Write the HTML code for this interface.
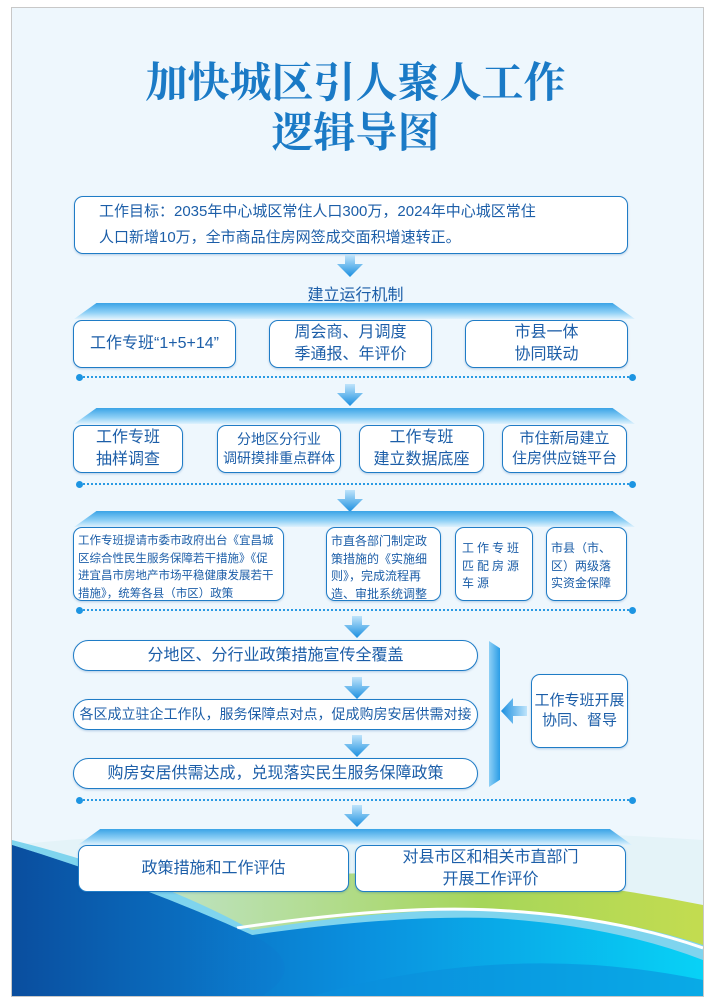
<!DOCTYPE html>
<html><head><meta charset="utf-8"><style>
*{margin:0;padding:0;box-sizing:border-box}
body{width:711px;height:1003px;background:#fff;position:relative;overflow:hidden;font-family:"Liberation Sans","Noto Sans CJK SC",sans-serif;color:#1c5ea8}
#frame{position:absolute;left:11px;top:7px;width:693px;height:990px;background:#eef7fd;border:1px solid #c8c8c8;overflow:hidden}
.a{position:absolute}
.box{position:absolute;background:#fff;border:1.5px solid #1f7cc6;border-radius:9px;display:flex;align-items:center;justify-content:center;text-align:center;box-shadow:0 1px 2px rgba(0,80,160,.25);line-height:1.35}
.t{position:absolute;text-align:center}
.band{position:absolute;height:16px;background:linear-gradient(#3aa3e6,#8fd0f6 60%,#dff2fd);clip-path:polygon(4% 0,96% 0,100% 100%,0 100%)}
.dl{position:absolute;height:0;border-top:2px dotted #2a9ae3}
.dl:before,.dl:after{content:"";position:absolute;top:-4.5px;width:7px;height:7px;border-radius:50%;background:#1d95e2}
.dl:before{left:-3px}.dl:after{right:-3px}
.arr{position:absolute;width:26px;height:22px}
.sm{font-size:12px;line-height:17.5px;text-align:left;justify-content:flex-start;align-items:flex-start;padding-top:5px;white-space:nowrap}
</style></head><body>
<div id="frame"></div>
<svg class="a" style="left:12px;top:800px" width="691" height="196" viewBox="0 0 691 196">
<defs>
<linearGradient id="g1" x1="0" x2="1"><stop offset="0" stop-color="#0a55a8"/><stop offset=".5" stop-color="#0a8fde"/><stop offset="1" stop-color="#08d2f6"/></linearGradient>
<linearGradient id="g2" x1="0" x2="1"><stop offset="0" stop-color="#bfe3c8"/><stop offset=".6" stop-color="#a6d65a"/><stop offset="1" stop-color="#c3dc50"/></linearGradient>
<linearGradient id="g3" x1="0" x2="1"><stop offset="0" stop-color="#0a4c9c"/><stop offset="1" stop-color="#0b7fd2"/></linearGradient>
</defs>
<path d="M0 45 Q300 15 691 40 L691 196 L0 196Z" fill="#e4f3f8"/>
<path d="M140 90 Q420 50 691 105 L691 196 L140 196Z" fill="url(#g2)"/>
<path d="M0 40 Q140 75 240 130 Q380 108 480 110 Q600 115 691 145 L691 196 L0 196Z" fill="#7fd4ee"/>
<path d="M0 45 Q130 85 240 135 Q380 115 480 118 Q600 125 691 160 L691 196 L0 196Z" fill="url(#g1)"/>
<path d="M225 128 Q380 105 480 110 Q600 116 691 148" stroke="#fff" stroke-width="3" fill="none"/>
<path d="M0 45 Q130 85 240 135 Q300 165 250 196 L0 196Z" fill="url(#g3)" opacity=".8"/>
<path d="M300 196 Q500 140 691 180 L691 196Z" fill="#0a90dc" opacity=".6"/>
</svg>

<div class="t" style="left:0;width:711px;top:55px;font-size:42px;font-weight:bold;color:#1a7ac6;font-family:'Noto Serif CJK SC',serif;line-height:50px">加快城区引人聚人工作<br>逻辑导图</div>

<div class="box" style="left:74px;top:196px;width:554px;height:58px;justify-content:flex-start;text-align:left;padding-left:24px;font-size:15px;line-height:26px">工作目标：2035年中心城区常住人口300万，2024年中心城区常住<br>人口新增10万，全市商品住房网签成交面积增速转正。</div>

<svg class="arr" style="left:337px;top:255px" viewBox="0 0 26 22"><defs><linearGradient id="ag" x1="0" y1="0" x2="0" y2="1"><stop offset="0" stop-color="#bfe4fb"/><stop offset="1" stop-color="#1a8fe0"/></linearGradient></defs><path d="M8 0H18V9H26L13 22L0 9H8Z" fill="url(#ag)"/></svg>
<div class="t" style="left:0;width:711px;top:281px;font-size:16px">建立运行机制</div>
<div class="band" style="left:74px;top:303px;width:561px"></div>
<div class="box" style="left:73px;top:320px;width:163px;height:48px;font-size:16px">工作专班“1+5+14”</div>
<div class="box" style="left:269px;top:320px;width:163px;height:48px;font-size:16px">周会商、月调度<br>季通报、年评价</div>
<div class="box" style="left:465px;top:320px;width:163px;height:48px;font-size:16px">市县一体<br>协同联动</div>
<div class="dl" style="left:79px;top:376px;width:554px"></div>

<svg class="arr" style="left:337px;top:384px" viewBox="0 0 26 22"><path d="M8 0H18V9H26L13 22L0 9H8Z" fill="url(#ag)"/></svg>
<div class="band" style="left:74px;top:408px;width:561px"></div>
<div class="box" style="left:73px;top:425px;width:110px;height:48px;font-size:16px">工作专班<br>抽样调查</div>
<div class="box" style="left:217px;top:425px;width:124px;height:48px;font-size:14px">分地区分行业<br>调研摸排重点群体</div>
<div class="box" style="left:359px;top:425px;width:125px;height:48px;font-size:16px">工作专班<br>建立数据底座</div>
<div class="box" style="left:502px;top:425px;width:125px;height:48px;font-size:15px">市住新局建立<br>住房供应链平台</div>
<div class="dl" style="left:79px;top:483px;width:554px"></div>

<svg class="arr" style="left:337px;top:490px" viewBox="0 0 26 22"><path d="M8 0H18V9H26L13 22L0 9H8Z" fill="url(#ag)"/></svg>
<div class="band" style="left:74px;top:511px;width:561px"></div>
<div class="box sm" style="left:73px;top:527px;width:211px;height:74px;padding-left:4px;font-size:11.5px">工作专班提请市委市政府出台《宜昌城<br>区综合性民生服务保障若干措施》《促<br>进宜昌市房地产市场平稳健康发展若干<br>措施》，统筹各县（市区）政策</div>
<div class="box sm" style="left:326px;top:527px;width:115px;height:74px;padding-left:4px">市直各部门制定政<br>策措施的《实施细<br>则》，完成流程再<br>造、审批系统调整</div>
<div class="box sm" style="left:455px;top:527px;width:78px;height:74px;padding-left:6px;padding-top:12px;letter-spacing:3px">工作专班<br>匹配房源<br>车源</div>
<div class="box sm" style="left:546px;top:527px;width:81px;height:74px;padding-left:4px;padding-top:12px">市县（市、<br>区）两级落<br>实资金保障</div>
<div class="dl" style="left:79px;top:609px;width:554px"></div>

<svg class="arr" style="left:344px;top:616px" viewBox="0 0 26 22"><path d="M8 0H18V9H26L13 22L0 9H8Z" fill="url(#ag)"/></svg>
<div class="box" style="left:73px;top:640px;width:405px;height:31px;border-radius:16px;font-size:16px">分地区、分行业政策措施宣传全覆盖</div>
<svg class="arr" style="left:344px;top:677px" viewBox="0 0 26 22"><path d="M8 0H18V9H26L13 22L0 9H8Z" fill="url(#ag)"/></svg>
<div class="box" style="left:73px;top:699px;width:405px;height:31px;border-radius:16px;font-size:14px">各区成立驻企工作队，服务保障点对点，促成购房安居供需对接</div>
<svg class="arr" style="left:344px;top:735px" viewBox="0 0 26 22"><path d="M8 0H18V9H26L13 22L0 9H8Z" fill="url(#ag)"/></svg>
<div class="box" style="left:73px;top:758px;width:405px;height:31px;border-radius:16px;font-size:16px">购房安居供需达成，兑现落实民生服务保障政策</div>
<div class="a" style="left:489px;top:641px;width:11px;height:146px;background:linear-gradient(90deg,#8fd0f6,#2a9de6);clip-path:polygon(0 0,100% 5%,100% 95%,0 100%)"></div>
<svg class="a" style="left:501px;top:698px" width="26" height="26" viewBox="0 0 26 26"><defs><linearGradient id="lg" x1="1" x2="0"><stop offset="0" stop-color="#bfe4fb"/><stop offset="1" stop-color="#1a8fe0"/></linearGradient></defs><path d="M26 8V18H12V26L0 13L12 0V8Z" fill="url(#lg)"/></svg>
<div class="box" style="left:531px;top:674px;width:97px;height:74px;font-size:15px">工作专班开展<br>协同、督导</div>
<div class="dl" style="left:79px;top:799px;width:554px"></div>

<svg class="arr" style="left:344px;top:805px" viewBox="0 0 26 22"><path d="M8 0H18V9H26L13 22L0 9H8Z" fill="url(#ag)"/></svg>
<div class="band" style="left:78px;top:829px;width:554px"></div>
<div class="box" style="left:78px;top:845px;width:271px;height:47px;font-size:16px">政策措施和工作评估</div>
<div class="box" style="left:355px;top:845px;width:271px;height:47px;font-size:16px">对县市区和相关市直部门<br>开展工作评价</div>
</body></html>
